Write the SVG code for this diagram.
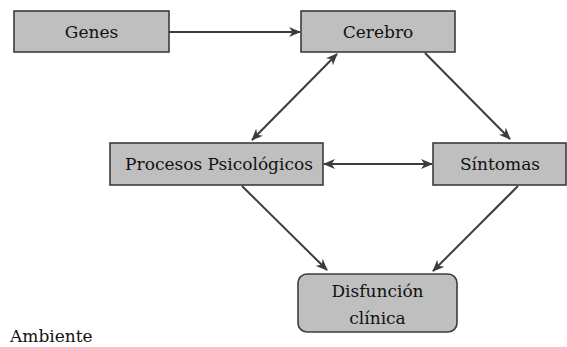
<svg xmlns="http://www.w3.org/2000/svg" width="567" height="347" viewBox="0 0 567 347">
  <style>
    .box { fill: #bfbfbf; stroke: #3c3c3c; stroke-width: 1.6; }
    .lbl { font-family: "DejaVu Serif", "Liberation Serif", serif; font-size: 17px; fill: #111111; text-anchor: middle; }
    .edge { stroke: #3c3c3c; stroke-width: 2; fill: none; }
  </style>
  <defs>
    <marker id="ah" markerWidth="12" markerHeight="10" refX="11" refY="5" orient="auto-start-reverse" markerUnits="userSpaceOnUse">
      <path d="M0,0 L12,5 L0,10 L3.5,5 Z" fill="#3c3c3c"/>
    </marker>
  </defs>
  <rect width="567" height="347" fill="#ffffff"/>
  <g id="connectors">
    <line class="edge" x1="169" y1="32" x2="300" y2="32" marker-end="url(#ah)"/>
    <line class="edge" x1="252" y1="140" x2="337" y2="54" marker-start="url(#ah)" marker-end="url(#ah)"/>
    <line class="edge" x1="425" y1="53" x2="510" y2="139" marker-end="url(#ah)"/>
    <line class="edge" x1="324" y1="164" x2="432" y2="164" marker-start="url(#ah)" marker-end="url(#ah)"/>
    <line class="edge" x1="242" y1="186" x2="327" y2="270" marker-end="url(#ah)"/>
    <line class="edge" x1="518" y1="186" x2="433" y2="271" marker-end="url(#ah)"/>
  </g>
  <g id="genes">
    <rect class="box" x="14" y="11" width="155" height="41"/>
    <text class="lbl" x="91.5" y="37.5">Genes</text>
  </g>
  <g id="cerebro">
    <rect class="box" x="301" y="11" width="154" height="41"/>
    <text class="lbl" x="378" y="37.5">Cerebro</text>
  </g>
  <g id="procesos">
    <rect class="box" x="110" y="143" width="213" height="42"/>
    <text class="lbl" x="219" y="170">Procesos Psicológicos</text>
  </g>
  <g id="sintomas">
    <rect class="box" x="433" y="143" width="133" height="42"/>
    <text class="lbl" x="500" y="170">Síntomas</text>
  </g>
  <g id="disfuncion">
    <rect class="box" x="298" y="274" width="159" height="58" rx="9" ry="9"/>
    <text class="lbl" x="377.5" y="297">Disfunción</text>
    <text class="lbl" x="377.5" y="324">clínica</text>
  </g>
  <g id="ambiente">
    <text class="lbl" x="10" y="342" style="text-anchor:start">Ambiente</text>
  </g>
</svg>
